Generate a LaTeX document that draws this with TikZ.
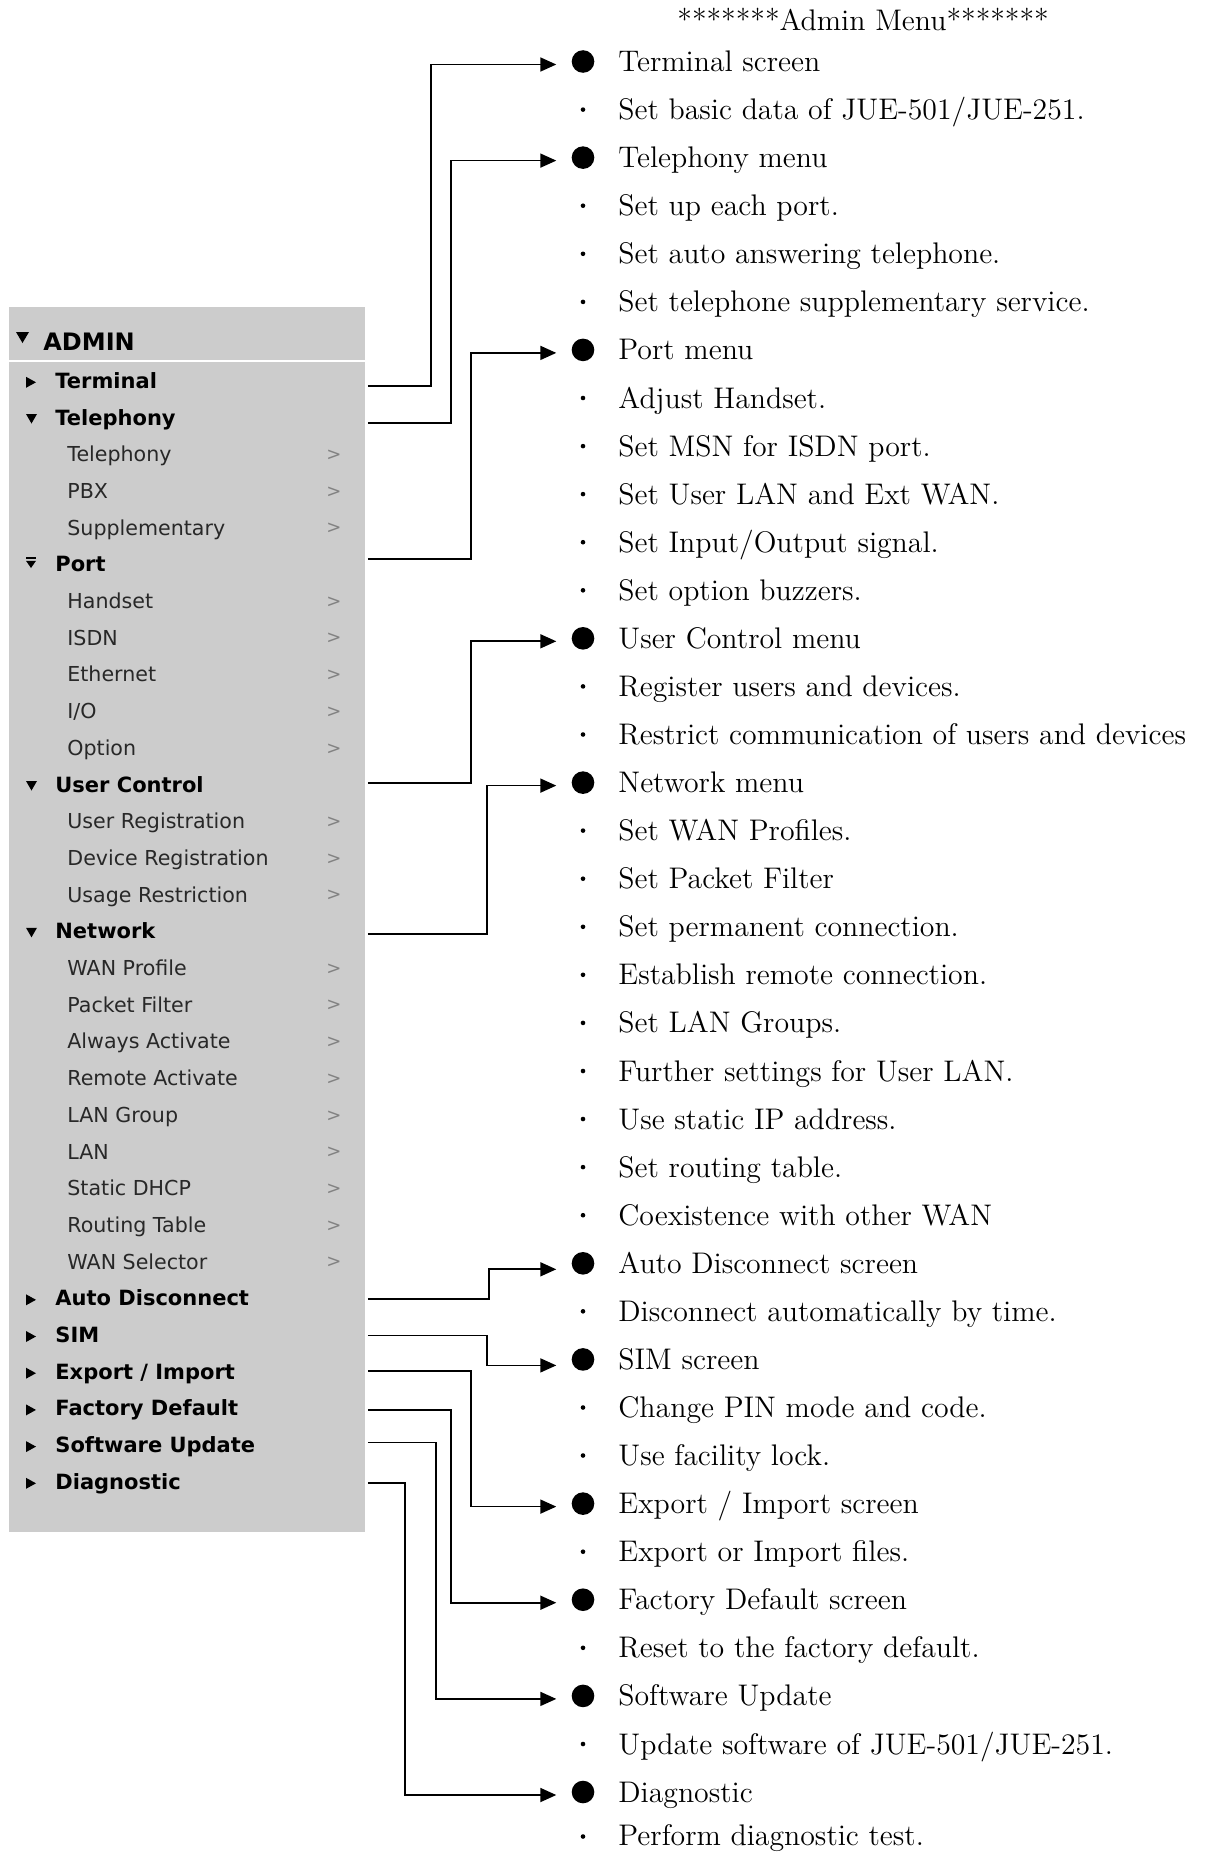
\documentclass[tikz,border=0pt]{standalone}
\usepackage{fontspec}
\usetikzlibrary{calc, positioning, arrows.meta}
\newfontfamily\menufont{DejaVu Sans}
\definecolor{ADMgrey}{RGB}{204, 204, 204}
\definecolor{ADMtext}{RGB}{40, 40, 40}
\definecolor{ADMchev}{RGB}{130, 130, 130}

\begin{document}
\begin{tikzpicture}[x=0.5pt, y=-0.5pt,
	menuhead/.style={anchor=base west, inner sep=0pt, font=\menufont\bfseries\fontsize{12}{14}\selectfont},
	menuitem/.style={anchor=base west, inner sep=0pt, font=\menufont\bfseries\fontsize{10.5}{12}\selectfont},
	menusub/.style={anchor=base west, inner sep=0pt, text=ADMtext, font=\menufont\fontsize{10.3}{12}\selectfont},
	chev/.style={inner sep=0pt, text=ADMchev, font=\menufont\fontsize{9}{10}\selectfont},
	entry/.style={anchor=base west, inner sep=0pt, font=\fontsize{14.9}{17}\selectfont},
	bigdot/.style={circle, fill=black, inner sep=0pt, minimum size=11.3pt},
	smalldot/.style={circle, fill=black, inner sep=0pt, minimum size=2.3pt},
	link/.style={line width=0.85pt, -{Triangle[length=8pt, width=7pt]}}]
		\useasboundingbox (0,0) rectangle (1206,1852);

		% Menu panel
		\node[fill=ADMgrey, inner sep=0pt, minimum width=178pt, minimum height=612.5pt, anchor=north west] (panel) at (9,307) {};
		\draw[white, line width=1.2pt] (9,361) -- (365,361);
		\fill (16,332) -- (29,332) -- (22.5,343) -- cycle;
		\node[menuhead] (admin) at (43,350) {ADMIN};

		% Menu items
		\fill (26,376.8) -- (36,382.3) -- (26,387.8) -- cycle;
		\node[menuitem] (mterm) at (55,388.3) {Terminal};
		\fill (26,414) -- (37,414) -- (31.5,423.5) -- cycle;
		\node[menuitem] (mtel) at (55,425) {Telephony};
		\node[menusub] (stel) at (67,461.7) {Telephony};
		\node[menusub] (spbx) at (67,498.4) {PBX};
		\node[menusub] (ssupp) at (67,535.1) {Supplementary};
		\fill (26,557.3) rectangle (36,559.3);
		\fill (26,560.8) -- (36,560.8) -- (31,568) -- cycle;
		\node[menuitem] (mport) at (55,571.8) {Port};
		\node[menusub] (shand) at (67,608.5) {Handset};
		\node[menusub] (sisdn) at (67,645.2) {ISDN};
		\node[menusub] (seth) at (67,681.9) {Ethernet};
		\node[menusub] (sio) at (67,718.6) {I/O};
		\node[menusub] (sopt) at (67,755.3) {Option};
		\fill (26,781) -- (37,781) -- (31.5,790.5) -- cycle;
		\node[menuitem] (muser) at (55,792) {User Control};
		\node[menusub] (sureg) at (67,828.7) {User Registration};
		\node[menusub] (sdreg) at (67,865.4) {Device Registration};
		\node[menusub] (susage) at (67,902.1) {Usage Restriction};
		\fill (26,927.8) -- (37,927.8) -- (31.5,937.3) -- cycle;
		\node[menuitem] (mnet) at (55,938.8) {Network};
		\node[menusub] (swan) at (67,975.5) {WAN Profile};
		\node[menusub] (spkt) at (67,1012.2) {Packet Filter};
		\node[menusub] (salw) at (67,1048.9) {Always Activate};
		\node[menusub] (srem) at (67,1085.6) {Remote Activate};
		\node[menusub] (slgrp) at (67,1122.3) {LAN Group};
		\node[menusub] (slan) at (67,1159) {LAN};
		\node[menusub] (sdhcp) at (67,1195.7) {Static DHCP};
		\node[menusub] (sroute) at (67,1232.4) {Routing Table};
		\node[menusub] (swsel) at (67,1269.1) {WAN Selector};
		\fill (26,1294.3) -- (36,1299.8) -- (26,1305.3) -- cycle;
		\node[menuitem] (mauto) at (55,1305.8) {Auto Disconnect};
		\fill (26,1331) -- (36,1336.5) -- (26,1342) -- cycle;
		\node[menuitem] (msim) at (55,1342.5) {SIM};
		\fill (26,1367.7) -- (36,1373.2) -- (26,1378.7) -- cycle;
		\node[menuitem] (mexp) at (55,1379.2) {Export / Import};
		\fill (26,1404.4) -- (36,1409.9) -- (26,1415.4) -- cycle;
		\node[menuitem] (mfact) at (55,1415.9) {Factory Default};
		\fill (26,1441.1) -- (36,1446.6) -- (26,1452.1) -- cycle;
		\node[menuitem] (msoft) at (55,1452.6) {Software Update};
		\fill (26,1477.8) -- (36,1483.3) -- (26,1488.8) -- cycle;
		\node[menuitem] (mdiag) at (55,1489.3) {Diagnostic};

		% Chevrons
		\node[chev] (c1) at (334,455.2) {>};
		\node[chev] (c2) at (334,491.9) {>};
		\node[chev] (c3) at (334,528.6) {>};
		\node[chev] (c4) at (334,602) {>};
		\node[chev] (c5) at (334,638.7) {>};
		\node[chev] (c6) at (334,675.4) {>};
		\node[chev] (c7) at (334,712.1) {>};
		\node[chev] (c8) at (334,748.8) {>};
		\node[chev] (c9) at (334,822.2) {>};
		\node[chev] (c10) at (334,858.9) {>};
		\node[chev] (c11) at (334,895.6) {>};
		\node[chev] (c12) at (334,969) {>};
		\node[chev] (c13) at (334,1005.7) {>};
		\node[chev] (c14) at (334,1042.4) {>};
		\node[chev] (c15) at (334,1079.1) {>};
		\node[chev] (c16) at (334,1115.8) {>};
		\node[chev] (c17) at (334,1152.5) {>};
		\node[chev] (c18) at (334,1189.2) {>};
		\node[chev] (c19) at (334,1225.9) {>};
		\node[chev] (c20) at (334,1262.6) {>};

		% Description list
		\node[entry] (title) at (677,31) {*******Admin Menu*******};
		\node[bigdot] (b0) at (583,61.5) {};
		\node[entry] (e0) at (618,71.5) {Terminal screen};
		\node[smalldot] (d1) at (583,109.6) {};
		\node[entry] (e1) at (618,119.6) {Set basic data of JUE-501/JUE-251.};
		\node[bigdot] (b2) at (583,157.6) {};
		\node[entry] (e2) at (618,167.6) {Telephony menu};
		\node[smalldot] (d3) at (583,205.7) {};
		\node[entry] (e3) at (618,215.7) {Set up each port.};
		\node[smalldot] (d4) at (583,253.8) {};
		\node[entry] (e4) at (618,263.8) {Set auto answering telephone.};
		\node[smalldot] (d5) at (583,301.9) {};
		\node[entry] (e5) at (618,311.9) {Set telephone supplementary service.};
		\node[bigdot] (b6) at (583,349.9) {};
		\node[entry] (e6) at (618,359.9) {Port menu};
		\node[smalldot] (d7) at (583,398.0) {};
		\node[entry] (e7) at (618,408.0) {Adjust Handset.};
		\node[smalldot] (d8) at (583,446.1) {};
		\node[entry] (e8) at (618,456.1) {Set MSN for ISDN port.};
		\node[smalldot] (d9) at (583,494.1) {};
		\node[entry] (e9) at (618,504.1) {Set User LAN and Ext WAN.};
		\node[smalldot] (d10) at (583,542.2) {};
		\node[entry] (e10) at (618,552.2) {Set Input/Output signal.};
		\node[smalldot] (d11) at (583,590.3) {};
		\node[entry] (e11) at (618,600.3) {Set option buzzers.};
		\node[bigdot] (b12) at (583,638.3) {};
		\node[entry] (e12) at (618,648.3) {User Control menu};
		\node[smalldot] (d13) at (583,686.4) {};
		\node[entry] (e13) at (618,696.4) {Register users and devices.};
		\node[smalldot] (d14) at (583,734.5) {};
		\node[entry] (e14) at (618,744.5) {Restrict communication of users and devices};
		\node[bigdot] (b15) at (583,782.6) {};
		\node[entry] (e15) at (618,792.6) {Network menu};
		\node[smalldot] (d16) at (583,830.6) {};
		\node[entry] (e16) at (618,840.6) {Set WAN Profiles.};
		\node[smalldot] (d17) at (583,878.7) {};
		\node[entry] (e17) at (618,888.7) {Set Packet Filter};
		\node[smalldot] (d18) at (583,926.8) {};
		\node[entry] (e18) at (618,936.8) {Set permanent connection.};
		\node[smalldot] (d19) at (583,974.8) {};
		\node[entry] (e19) at (618,984.8) {Establish remote connection.};
		\node[smalldot] (d20) at (583,1022.9) {};
		\node[entry] (e20) at (618,1032.9) {Set LAN Groups.};
		\node[smalldot] (d21) at (583,1071.0) {};
		\node[entry] (e21) at (618,1081.0) {Further settings for User LAN.};
		\node[smalldot] (d22) at (583,1119.0) {};
		\node[entry] (e22) at (618,1129.0) {Use static IP address.};
		\node[smalldot] (d23) at (583,1167.1) {};
		\node[entry] (e23) at (618,1177.1) {Set routing table.};
		\node[smalldot] (d24) at (583,1215.2) {};
		\node[entry] (e24) at (618,1225.2) {Coexistence with other WAN};
		\node[bigdot] (b25) at (583,1263.3) {};
		\node[entry] (e25) at (618,1273.3) {Auto Disconnect screen};
		\node[smalldot] (d26) at (583,1311.3) {};
		\node[entry] (e26) at (618,1321.3) {Disconnect automatically by time.};
		\node[bigdot] (b27) at (583,1359.4) {};
		\node[entry] (e27) at (618,1369.4) {SIM screen};
		\node[smalldot] (d28) at (583,1407.5) {};
		\node[entry] (e28) at (618,1417.5) {Change PIN mode and code.};
		\node[smalldot] (d29) at (583,1455.5) {};
		\node[entry] (e29) at (618,1465.5) {Use facility lock.};
		\node[bigdot] (b30) at (583,1503.6) {};
		\node[entry] (e30) at (618,1513.6) {Export / Import screen};
		\node[smalldot] (d31) at (583,1551.7) {};
		\node[entry] (e31) at (618,1561.7) {Export or Import files.};
		\node[bigdot] (b32) at (583,1599.7) {};
		\node[entry] (e32) at (618,1609.7) {Factory Default screen};
		\node[smalldot] (d33) at (583,1647.8) {};
		\node[entry] (e33) at (618,1657.8) {Reset to the factory default.};
		\node[bigdot] (b34) at (583,1695.9) {};
		\node[entry] (e34) at (618,1705.9) {Software Update};
		\node[smalldot] (d35) at (583,1744.0) {};
		\node[entry] (e35) at (618,1754.0) {Update software of JUE-501/JUE-251.};
		\node[bigdot] (b36) at (583,1792.0) {};
		\node[entry] (e36) at (618,1802.0) {Diagnostic};
		\node[smalldot] (d37) at (583,1836.5) {};
		\node[entry] (e37) at (618,1845.5) {Perform diagnostic test.};

		% Connectors
		\draw[link] ($(mterm.base -| panel.east)+(2,-2)$) -| ($(b0.west)+(-140,3)$) -- ($(b0.west)+(-15,3)$);
		\draw[link] ($(mtel.base -| panel.east)+(2,-2)$) -| ($(b2.west)+(-120,3)$) -- ($(b2.west)+(-15,3)$);
		\draw[link] ($(mport.base -| panel.east)+(2,-13)$) -| ($(b6.west)+(-100,3)$) -- ($(b6.west)+(-15,3)$);
		\draw[link] ($(muser.base -| panel.east)+(2,-9)$) -| ($(b12.west)+(-100,3)$) -- ($(b12.west)+(-15,3)$);
		\draw[link] ($(mnet.base -| panel.east)+(2,-5)$) -| ($(b15.west)+(-84,3)$) -- ($(b15.west)+(-15,3)$);
		\draw[link] ($(mauto.base -| panel.east)+(2,-7)$) -| ($(b25.west)+(-82,6)$) -- ($(b25.west)+(-15,6)$);
		\draw[link] ($(msim.base -| panel.east)+(2,-7)$) -| ($(b27.west)+(-84,6)$) -- ($(b27.west)+(-15,6)$);
		\draw[link] ($(mexp.base -| panel.east)+(2,-8)$) -| ($(b30.west)+(-100,3)$) -- ($(b30.west)+(-15,3)$);
		\draw[link] ($(mfact.base -| panel.east)+(2,-6)$) -| ($(b32.west)+(-120,3)$) -- ($(b32.west)+(-15,3)$);
		\draw[link] ($(msoft.base -| panel.east)+(2,-10)$) -| ($(b34.west)+(-135,3)$) -- ($(b34.west)+(-15,3)$);
		\draw[link] ($(mdiag.base -| panel.east)+(2,-6)$) -| ($(b36.west)+(-166,3)$) -- ($(b36.west)+(-15,3)$);
	\end{tikzpicture}
\end{document}
